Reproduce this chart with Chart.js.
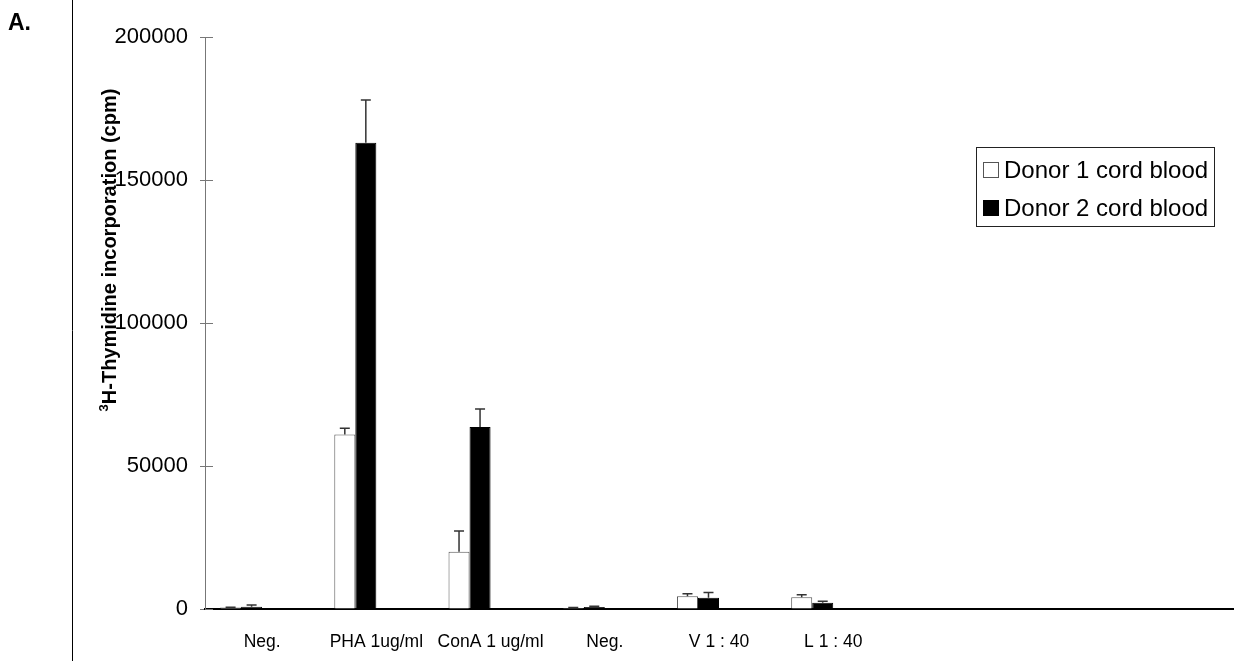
<!DOCTYPE html>
<html>
<head>
<meta charset="utf-8">
<script src="https://cdn.jsdelivr.net/npm/chart.js@4.4.1/dist/chart.umd.min.js"></script>
<style>
  html, body { margin: 0; padding: 0; background: #fff; }
  #wrap { width: 1244px; height: 661px; }
</style>
</head>
<body>
<div id="wrap"><canvas id="chart" width="1244" height="661"></canvas></div>
<script>
// stimulation conditions (last three slots are left blank on the axis)
const categories = ["Neg.", "PHA 1ug/ml", "ConA 1 ug/ml", "Neg.", "V 1 : 40", "L 1 : 40", "", "", ""];

// mean cpm per condition
const donor1 = [500, 61000, 20000, 350, 4500, 4100, null, null, null];
const donor2 = [800, 163000, 63600, 700, 3950, 2200, null, null, null];

// upper error (SD) per condition
const donor1Err = [150, 2200, 7300, 150, 850, 900, null, null, null];
const donor2Err = [600, 15000, 6300, 300, 1850, 500, null, null, null];

const yTicks = [0, 50000, 100000, 150000, 200000];

const FONT = "'Liberation Sans', Arial, sans-serif";

// error bars drawn on top of each bar, plus side elements of the panel
const extras = {
  id: "extras",
  afterDatasetsDraw(chart) {
    const ctx = chart.ctx;
    const y = chart.scales.y;
    ctx.save();
    ctx.strokeStyle = "#333";
    ctx.lineWidth = 1.5;
    chart.data.datasets.forEach((ds, i) => {
      if (!ds.errors) return;
      const meta = chart.getDatasetMeta(i);
      meta.data.forEach((bar, j) => {
        const v = ds.data[j];
        const e = ds.errors[j];
        if (v == null || e == null) return;
        const top = y.getPixelForValue(v + e);
        ctx.beginPath();
        ctx.moveTo(bar.x, bar.y);
        ctx.lineTo(bar.x, top);
        ctx.moveTo(bar.x - 5, top);
        ctx.lineTo(bar.x + 5, top);
        ctx.stroke();
      });
    });
    ctx.restore();
  },
  afterDraw(chart) {
    const ctx = chart.ctx;
    const area = chart.chartArea;
    const y = chart.scales.y;
    ctx.save();

    // inner half of the crossing tick marks
    ctx.strokeStyle = "#777";
    ctx.lineWidth = 1;
    yTicks.forEach((t) => {
      const py = Math.round(y.getPixelForValue(t)) + 0.5;
      ctx.beginPath();
      ctx.moveTo(area.left, py);
      ctx.lineTo(area.left + 8, py);
      ctx.stroke();
    });

    // panel divider line
    ctx.strokeStyle = "#000";
    ctx.beginPath();
    ctx.moveTo(72.5, 0);
    ctx.lineTo(72.5, chart.height);
    ctx.stroke();

    // panel letter
    ctx.fillStyle = "#000";
    ctx.font = "bold 23px " + FONT;
    ctx.textBaseline = "alphabetic";
    ctx.textAlign = "left";
    ctx.fillText("A.", 8, 30);

    // y axis title with superscript
    const supFont = "bold 13px " + FONT;
    const mainFont = "bold 20px " + FONT;
    const sup = "3";
    const main = "H-Thymidine incorporation (cpm)";
    ctx.font = supFont;
    const wSup = ctx.measureText(sup).width;
    ctx.font = mainFont;
    const wMain = ctx.measureText(main).width;
    ctx.translate(116, 250);
    ctx.rotate(-Math.PI / 2);
    const start = -(wSup + wMain) / 2;
    ctx.font = supFont;
    ctx.fillText(sup, start, -8);
    ctx.font = mainFont;
    ctx.fillText(main, start + wSup, 0);
    ctx.setTransform(1, 0, 0, 1, 0, 0);

    // legend box
    const bx = 976, by = 147, bw = 238, bh = 79;
    ctx.strokeStyle = "#222";
    ctx.lineWidth = 1;
    ctx.strokeRect(bx + 0.5, by + 0.5, bw, bh);
    ctx.font = "24px " + FONT;
    ctx.textBaseline = "middle";
    const rows = chart.data.datasets.filter((d) => d.label);
    rows.forEach((ds, i) => {
      const cy = 170 + i * 38;
      ctx.fillStyle = ds.backgroundColor;
      ctx.fillRect(983, cy - 8, 16, 16);
      ctx.strokeStyle = ds.borderColor;
      ctx.strokeRect(983.5, cy - 7.5, 15, 15);
      ctx.fillStyle = "#000";
      ctx.fillText(ds.label, 1004, cy + 1);
    });
    ctx.restore();
  }
};

new Chart(document.getElementById("chart"), {
  type: "bar",
  data: {
    labels: categories,
    datasets: [
      {
        label: "Donor 1 cord blood",
        data: donor1,
        errors: donor1Err,
        backgroundColor: "#ffffff",
        borderColor: "#555555",
        borderWidth: 1,
      },
      {
        label: "Donor 2 cord blood",
        data: donor2,
        errors: donor2Err,
        backgroundColor: "#000000",
        borderColor: "#000000",
        borderWidth: 1,
      },
      // two unused series slots keep the bars on the left of each group
      { label: "", data: [], backgroundColor: "#fff" },
      { label: "", data: [], backgroundColor: "#fff" }
    ]
  },
  options: {
    responsive: false,
    devicePixelRatio: 1,
    animation: false,
    layout: {
      padding: { top: 37, right: 11, left: 0, bottom: 0 }
    },
    datasets: {
      bar: {
        categoryPercentage: 0.736,
        barPercentage: 1.0
      }
    },
    scales: {
      x: {
        grid: { display: false },
        border: { display: true, color: "#000", width: 2 },
        ticks: {
          color: "#000",
          font: { family: FONT, size: 17.5 },
          padding: 15,
          maxRotation: 0,
          autoSkip: false
        },
        afterFit: (scale) => { scale.height = 52; }
      },
      y: {
        min: 0,
        max: 200000,
        afterBuildTicks: (scale) => {
          scale.ticks = yTicks.map((v) => ({ value: v }));
        },
        grid: {
          drawOnChartArea: false,
          drawTicks: true,
          tickLength: 5,
          color: "#777"
        },
        border: { display: true, color: "#777", width: 1 },
        ticks: {
          color: "#000",
          font: { family: FONT, size: 22 },
          padding: 12,
          callback: (value) => String(value)
        },
        afterFit: (scale) => { scale.width = 205; }
      }
    },
    plugins: {
      legend: { display: false },
      tooltip: { enabled: false }
    }
  },
  plugins: [extras]
});
</script>
</body>
</html>
